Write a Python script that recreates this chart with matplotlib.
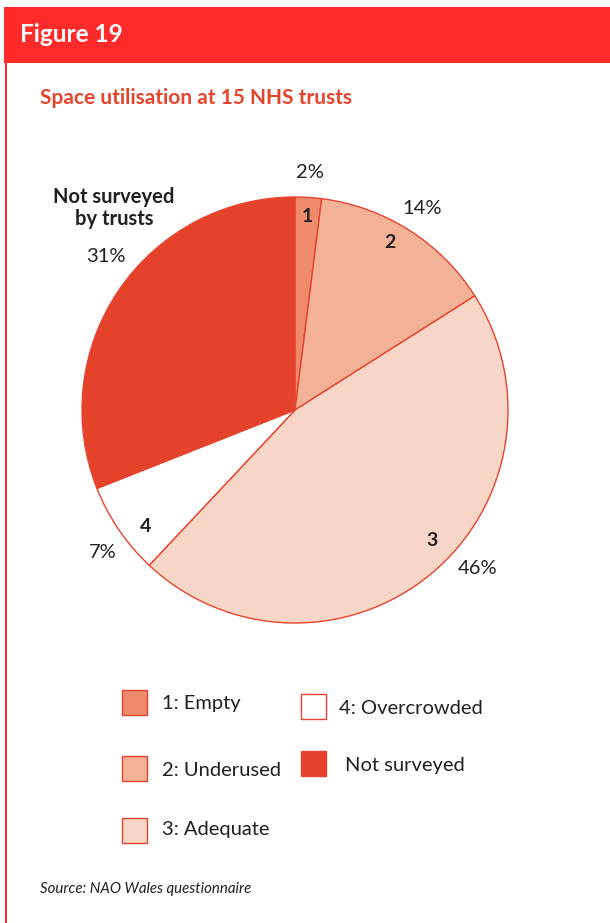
import matplotlib.pyplot as plt
from matplotlib.patches import Rectangle

plt.rcParams['font.family'] = ['Lato', 'DejaVu Sans']

# data
categories = ['1', '2', '3', '4', 'Not surveyed']
shares = [2, 14, 46, 7, 31]
colors = ['#EE8B6D', '#F3B196', '#F8D6C7', '#FFFFFF', '#E4422B']
legend_labels = ['1: Empty', '2: Underused', '3: Adequate', '4: Overcrowded', 'Not surveyed']

W, H = 610, 923
RED = '#FF2A2A'
EDGE = '#E8432E'
TXT = '#231F20'

fig = plt.figure(figsize=(W / 100, H / 100), dpi=100)
ax = fig.add_axes([0, 0, 1, 1])


def py(y):
    # pixel-from-top to data y
    return H - y


ax.pie(shares, colors=colors, startangle=90, counterclock=False,
       center=(295, py(410)), radius=213,
       wedgeprops=dict(edgecolor=EDGE, linewidth=1.0))
ax.set_xlim(0, W)
ax.set_ylim(0, H)
ax.set_aspect('auto')
ax.axis('off')

# header bar and left rule
ax.add_patch(Rectangle((4, py(63)), W - 4, 56, facecolor=RED, edgecolor='none'))
ax.add_patch(Rectangle((5, 0), 2, py(63), facecolor=RED, edgecolor='none'))
ax.text(20, py(35), 'Figure 19', color='white', fontsize=17.5, fontweight='bold',
        va='center', ha='left')
ax.text(40, py(98), 'Space utilisation at 15 NHS trusts', color='#E5452D',
        fontsize=15, fontweight='bold', va='center', ha='left')

# slice numbers and percentages
num_pos = {'1': (307, 216), '2': (390, 243), '3': (432, 540), '4': (146, 526)}
pct_pos = [(310, 172), (422, 209), (478, 568), (103, 553), (106, 257)]
for c, (x, y) in num_pos.items():
    ax.text(x, py(y), c, fontsize=14, fontweight='bold', color=TXT,
            ha='center', va='center')
for v, (x, y) in zip(shares, pct_pos):
    ax.text(x, py(y), f'{v}%', fontsize=14.5, color=TXT, ha='center', va='center')
ax.text(114, py(208), 'Not surveyed\nby trusts', fontsize=14.5, fontweight='bold',
        color=TXT, ha='center', va='center', linespacing=1.15)

# legend
box_pos = [(122, 690), (122, 756), (122, 818), (301, 694), (301, 751)]
text_pos = [(162, 703), (162, 770), (162, 829), (339, 708), (345, 765)]
for col, lab, (bx, by), (tx, ty) in zip(colors, legend_labels, box_pos, text_pos):
    ax.add_patch(Rectangle((bx, py(by + 25)), 25, 25, facecolor=col,
                           edgecolor=EDGE, linewidth=1.0))
    ax.text(tx, py(ty), lab, fontsize=14.5, color=TXT, ha='left', va='center')

ax.text(40, py(889), 'Source: NAO Wales questionnaire', fontsize=10.8,
        style='italic', color=TXT, ha='left', va='center')

fig.savefig('out.png', dpi=100)
